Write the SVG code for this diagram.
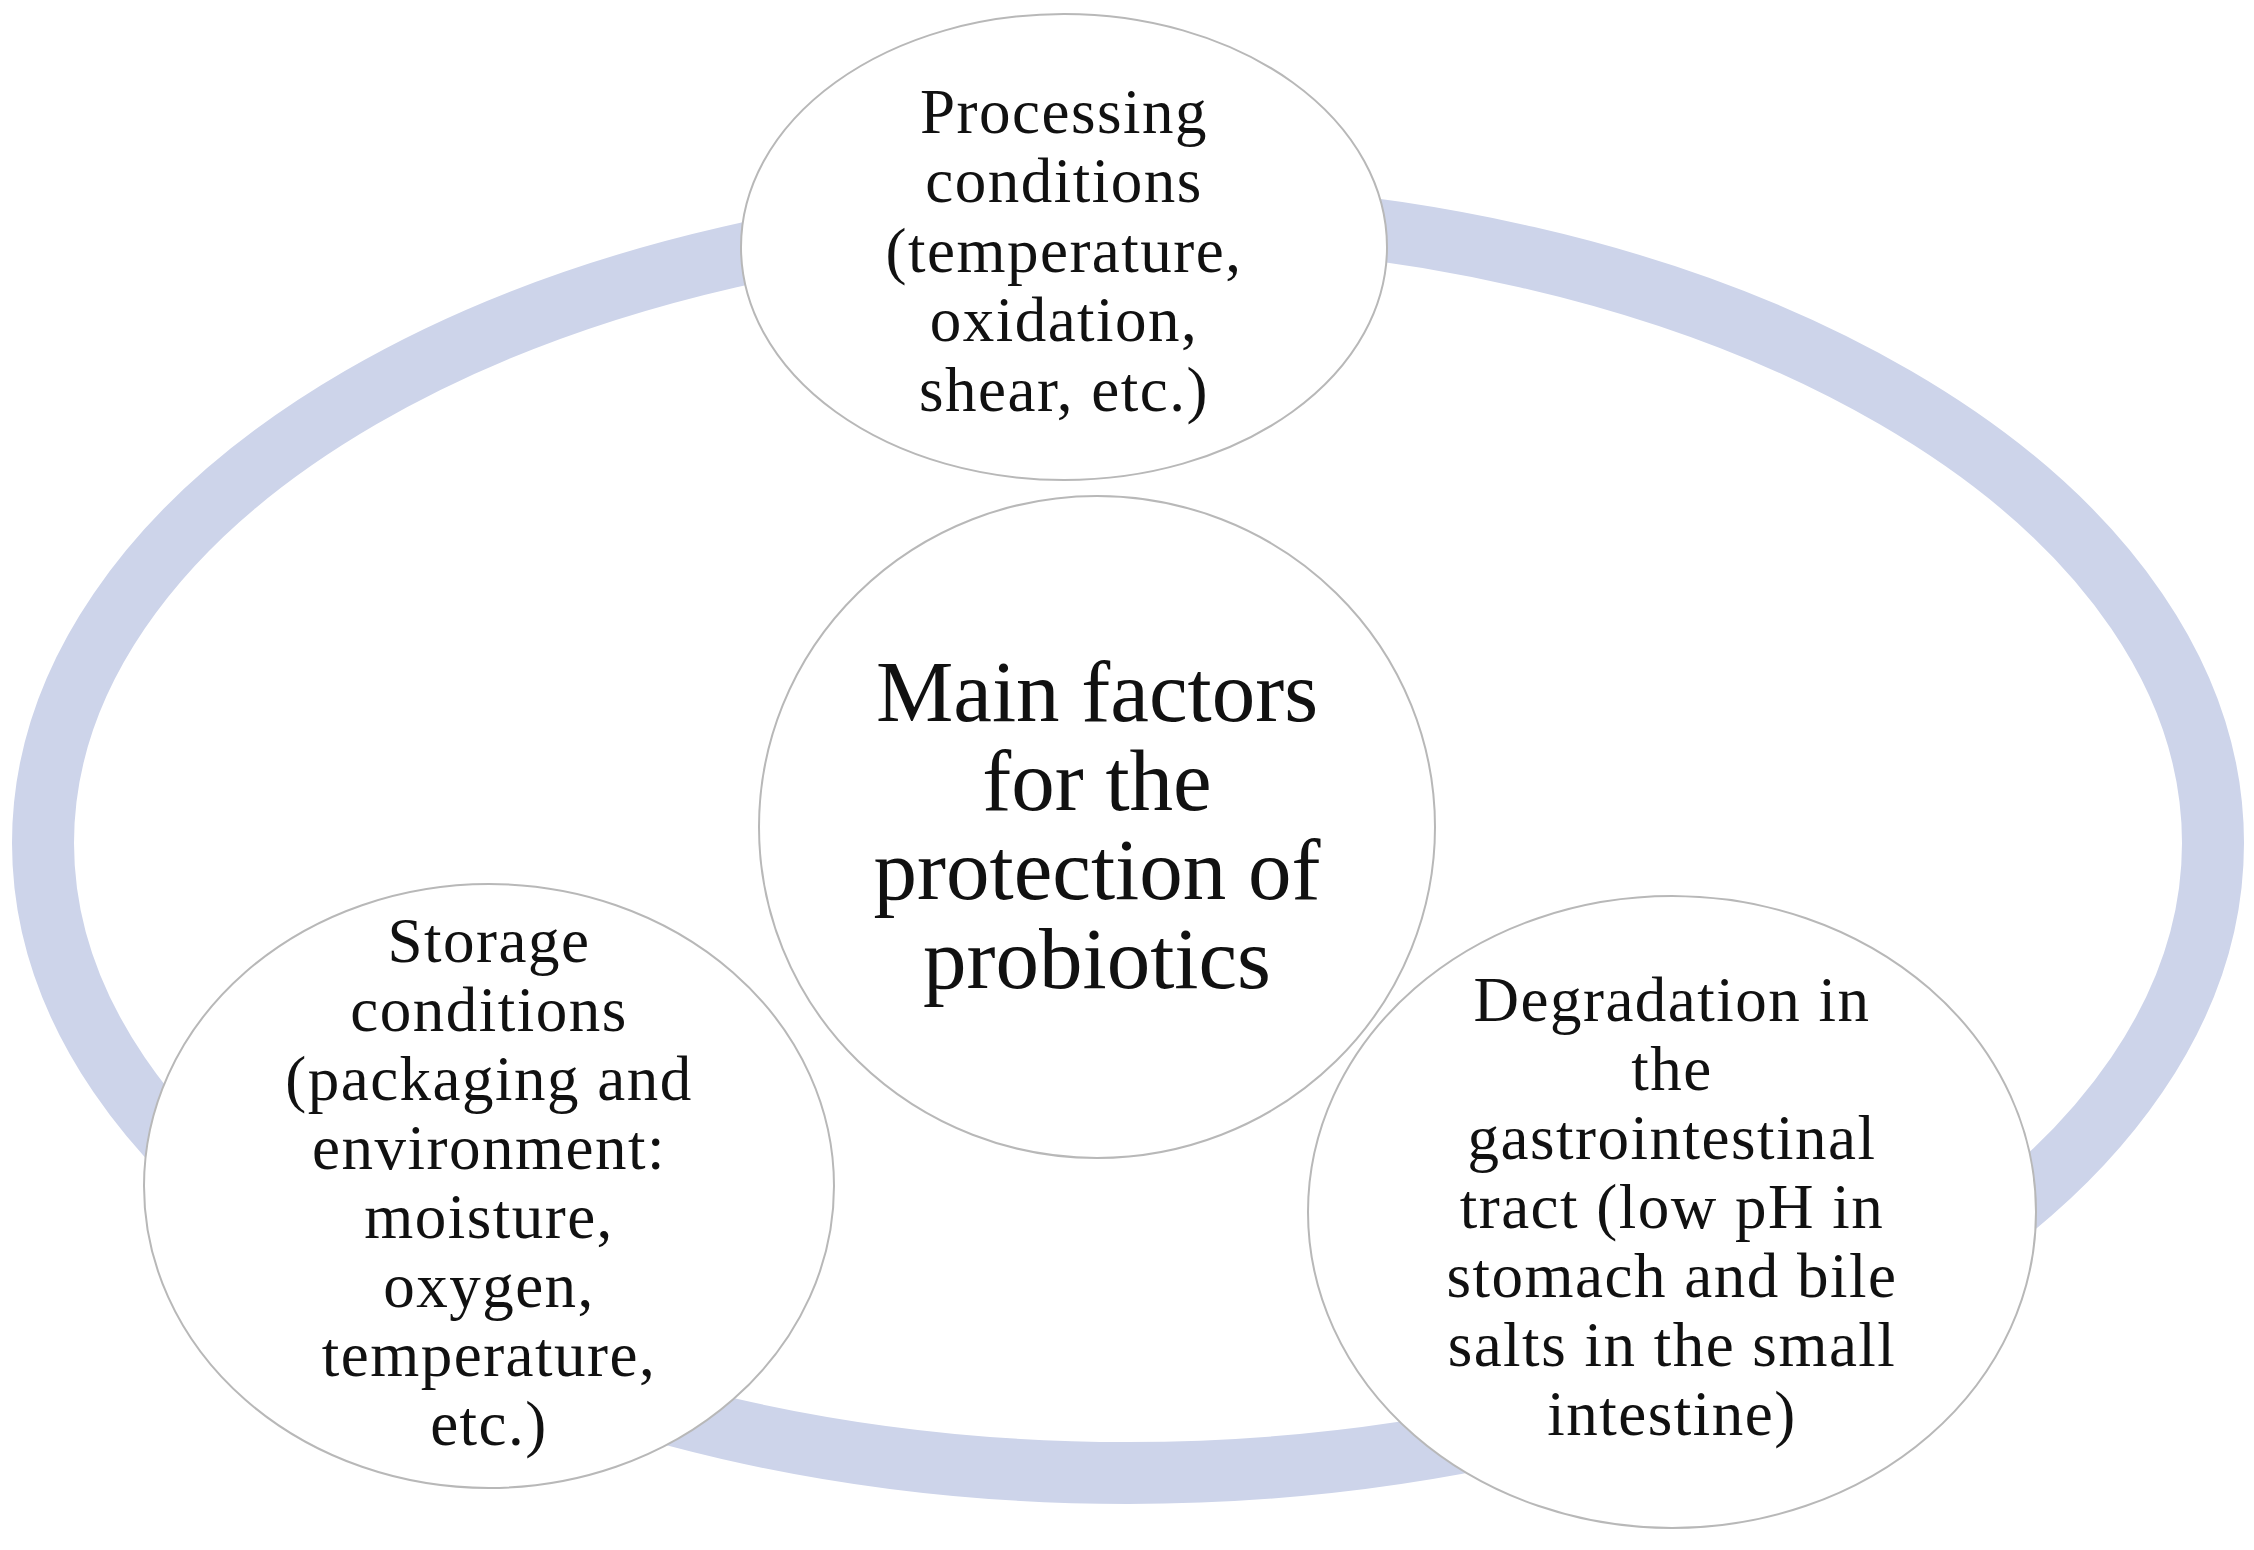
<svg xmlns="http://www.w3.org/2000/svg" width="2254" height="1550" viewBox="0 0 2254 1550">
<style>
.n{fill:#fff;stroke:#b8b8b8;stroke-width:2}
text{font-family:"Liberation Serif","Times New Roman",serif;fill:#111;text-anchor:middle}
.s{font-size:63px;letter-spacing:1.5px}
.b{font-size:87px}
</style>
<rect width="2254" height="1550" fill="#fff"/>
<g id="connectors"><ellipse cx="1128" cy="843" rx="1085" ry="630" fill="none" stroke="#cdd4ea" stroke-width="62"/></g>
<g id="top"><ellipse class="n" cx="1064" cy="247" rx="323" ry="233"/>
<text class="s"><tspan x="1064" y="133">Processing</tspan><tspan x="1064" y="202">conditions</tspan><tspan x="1064" y="272">(temperature,</tspan><tspan x="1064" y="341">oxidation,</tspan><tspan x="1064" y="411">shear, etc.)</tspan></text></g>
<g id="center"><ellipse class="n" cx="1097" cy="827" rx="338" ry="331"/>
<text class="b"><tspan x="1097" y="721">Main factors</tspan><tspan x="1097" y="810">for the</tspan><tspan x="1097" y="899">protection of</tspan><tspan x="1097" y="988">probiotics</tspan></text></g>
<g id="left"><ellipse class="n" cx="489" cy="1186" rx="345" ry="302"/>
<text class="s"><tspan x="489" y="962">Storage</tspan><tspan x="489" y="1031">conditions</tspan><tspan x="489" y="1100">(packaging and</tspan><tspan x="489" y="1169">environment:</tspan><tspan x="489" y="1238">moisture,</tspan><tspan x="489" y="1307">oxygen,</tspan><tspan x="489" y="1376">temperature,</tspan><tspan x="489" y="1445">etc.)</tspan></text></g>
<g id="right"><ellipse class="n" cx="1672" cy="1212" rx="364" ry="316"/>
<text class="s"><tspan x="1672" y="1021">Degradation in</tspan><tspan x="1672" y="1090">the</tspan><tspan x="1672" y="1159">gastrointestinal</tspan><tspan x="1672" y="1228">tract (low pH in</tspan><tspan x="1672" y="1297">stomach and bile</tspan><tspan x="1672" y="1366">salts in the small</tspan><tspan x="1672" y="1435">intestine)</tspan></text></g>
</svg>
